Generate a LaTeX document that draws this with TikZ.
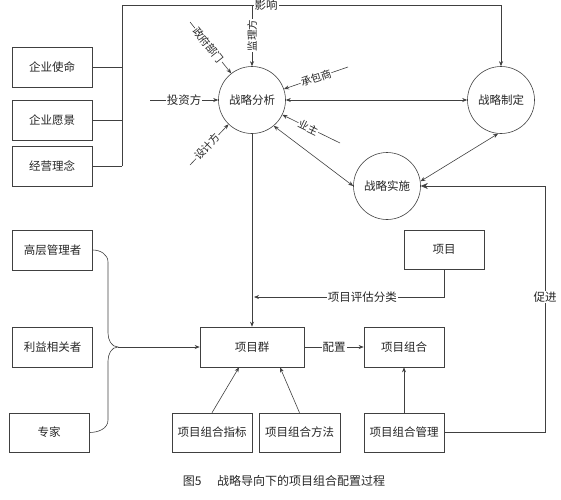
\documentclass[tikz,border=0pt]{standalone}
\usepackage{fontspec}
\setmainfont{Noto Sans CJK SC}
\usetikzlibrary{arrows.meta,calc}
\begin{document}
\begin{tikzpicture}[x=1pt,y=-1pt,
  line width=0.6pt, draw=black!75,
  every node/.style={text=black!85},
  box/.style={draw=black!75, rectangle, minimum width=80pt, minimum height=40pt, inner sep=0pt, font=\fontsize{11.5}{12}\selectfont},
  circ/.style={draw=black!75, circle, minimum size=67pt, inner sep=0pt, font=\fontsize{11.5}{12}\selectfont},
  arr/.style={-{Stealth[length=5pt,width=4pt]}},
  bigarr/.style={-{Stealth[length=7pt,width=6pt]}},
  darr/.style={{Stealth[length=5pt,width=4pt]}-{Stealth[length=5pt,width=4pt]}},
  lab/.style={fill=white, inner sep=1pt, font=\fontsize{11.5}{12}\selectfont},
  slab/.style={fill=white, inner sep=0.5pt, font=\fontsize{10.5}{11}\selectfont}
]
\useasboundingbox (0,0) rectangle (561,499);

% mission boxes
\node[box] (m1) at (52,67.5) {企业使命};
\node[box] (m2) at (52,120) {企业愿景};
\node[box] (m3) at (52,166) {经营理念};

% circles
\node[circ] (fx) at (252,100) {战略分析};
\node[circ] (zd) at (501,100) {战略制定};
\node[circ] (ss) at (387,186) {战略实施};

% influence line
\coordinate (vt) at (122,5);
\coordinate (vb) at (122,166);
\draw (m1.east) -- (m1.east -| vt);
\draw (m2.east) -- (m2.east -| vt);
\draw (m3.east) -- (vb);
\draw[arr] (vb) -- (vt) -- node[lab,pos=0.38]{影响} (zd.north |- vt) -- (zd.north);

% stakeholder spokes
\coordinate (s1) at (150,100);
\coordinate (s2) at (190,22);
\coordinate (s4) at (348,67);
\coordinate (s5) at (340,143);
\coordinate (s6) at (190,165);
\draw[arr] (s1) -- node[lab]{投资方} (fx.west);
\draw[arr] (s2) -- node[slab,sloped,pos=0.45]{政府部门} (fx.128);
\draw[arr] (fx.north |- vt) -- node[slab,rotate=90]{监理方} (fx.north);
\draw[arr] (s4) -- node[slab,sloped]{承包商} (fx.19);
\draw[arr] (s5) -- node[slab,sloped,pos=0.55]{业主} (fx.-26);
\draw[arr] (s6) -- node[slab,sloped,pos=0.45]{设计方} (fx.226);

% strategy relations
\draw[darr] (fx.east) -- (zd.west);
\draw[darr] (fx.-50) -- (ss.west);
\draw[darr] (zd.-95) -- (ss.8);

% project boxes
\node[box, minimum width=104pt] (xq) at (252,347) {项目群};
\node[box] (xz) at (404,347) {项目组合};
\node[box, minimum height=39pt] (xm) at (444,249.5) {项目};
\node[box, minimum height=39pt] (gl) at (404,432.5) {项目组合管理};
\node[box, minimum height=39pt] (zb) at (212,432.5) {项目组合指标};
\node[box, minimum width=81pt, minimum height=39pt] (ff) at (299.5,432.5) {项目组合方法};

% stakeholder boxes
\node[box] (g1) at (52.5,250) {高层管理者};
\node[box] (g2) at (52.5,347) {利益相关者};
\node[box, minimum height=39pt] (g3) at (49,432.5) {专家};

% connections
\draw[arr] (fx.south) -- (xq.north);
\coordinate (j) at (254,297);
\draw[arr] (xm.south) |- node[lab,pos=0.715]{项目评估分类} (j);
\draw[arr] (xq.east) -- node[lab]{配置} (xz.west);
\draw[arr] (gl.north) -- (xz.south);
\coordinate (pc) at (545,186);
\draw[bigarr] (gl.east) -| node[lab,pos=0.775]{促进} (pc) -- (ss.east);
\draw[arr] (zb.north) -- ($(xq.south)+(-13,0)$);
\draw[arr] (ff.north) -- ($(xq.south)+(28,0)$);

% brace
\coordinate (bt) at (118,347);
\draw (g1.east) to[out=0,in=90] (108,262) -- (108,333) to[out=-90,in=180] (bt)
      to[out=180,in=90] (108,361) -- (108,420) to[out=-90,in=0] (g3.east);
\draw[arr] (bt) -- (xq.west);

% caption
\node[font=\fontsize{12}{13}\selectfont] (cap) at (284,481) {图5\hspace{1.3em}战略导向下的项目组合配置过程};
\end{tikzpicture}
\end{document}
